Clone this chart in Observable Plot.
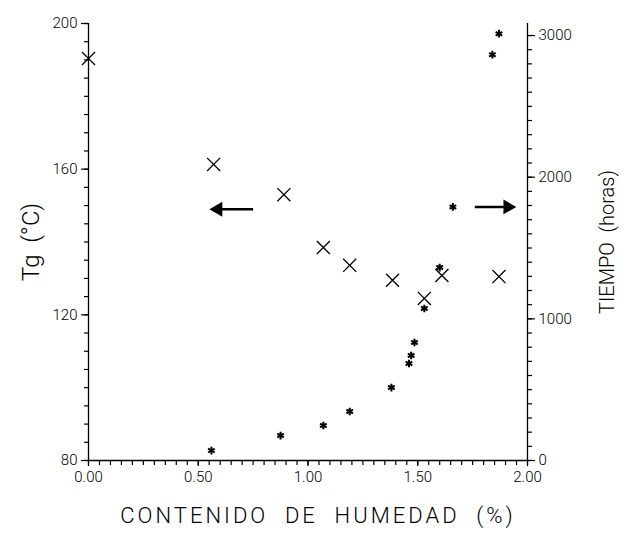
<!DOCTYPE html>
<html>
<head>
<meta charset="utf-8">
<script src="https://cdn.jsdelivr.net/npm/d3@7"></script>
<script src="https://cdn.jsdelivr.net/npm/@observablehq/plot@0.6"></script>
<style>
  html, body { margin: 0; padding: 0; background: #fff; }
  svg { display: block; }
</style>
</head>
<body>
<script>
// Tick values
const xTicks = [0, 0.5, 1, 1.5, 2];
const xMinor = d3.range(0, 2.0001, 0.05);
const tgTicks = [80, 120, 160, 200];
const tgMinor = d3.range(80, 200.001, 5);
const timeTicks = [0, 1000, 2000, 3000];
const timeMinor = d3.range(0, 3000.001, 100);
const TIME_MAX = 3085;

// Tg series (×, left axis)
const tgX   = [0.00, 0.57, 0.89, 1.07, 1.19, 1.385, 1.53, 1.61, 1.87];
const tgVal = [190.4, 161.3, 153, 138.5, 133.6, 129.5, 124.5, 130.8, 130.5];

// Tiempo series (*, right axis)
const timeX   = [0.56, 0.875, 1.07, 1.19, 1.38, 1.46, 1.47, 1.485, 1.53, 1.60, 1.66, 1.84, 1.87];
const timeVal = [70, 176, 247, 346, 515, 685, 741, 833, 1073, 1362, 1790, 2865, 3013];

// Arrows pointing to the relevant axis
const arrowTail = [0.75, 1.76];
const arrowHead = [0.59, 1.91];
const arrowLevelTg = [149, null];
const arrowLevelTime = [null, 1790];

const toTg = t => 80 + t * 120 / TIME_MAX;
const fromTg = v => (v - 80) * TIME_MAX / 120;

const tgData = tgX.map((x, i) => ({x, y: tgVal[i]}));
const timeData = timeX.map((x, i) => ({x, y: toTg(timeVal[i])}));
const arrows = arrowTail.map((t, i) => ({
  x1: t, x2: arrowHead[i],
  y: arrowLevelTg[i] != null ? arrowLevelTg[i] : toTg(arrowLevelTime[i]),
  rot: arrowHead[i] < t ? -90 : 90
}));

const font = "Roboto, 'Liberation Sans', sans-serif";

const chart = Plot.plot({
  width: 644,
  height: 533,
  marginLeft: 88,
  marginRight: 117,
  marginTop: 23,
  marginBottom: 73,
  style: {fontFamily: font, background: "#fff", color: "#000", fontWeight: 300},
  x: {domain: [0, 2]},
  y: {domain: [80, 200]},
  marks: [
    // axis lines
    Plot.ruleX([0, 2], {stroke: "#000", strokeWidth: 1.3}),
    Plot.ruleY([80], {stroke: "#000", strokeWidth: 1.6}),
    // x axis
    Plot.axisX(xMinor, {tickSize: 5, tickFormat: () => "", label: null, strokeWidth: 1.2}),
    Plot.axisX(xTicks, {tickSize: 6, tickPadding: 5, tickFormat: d3.format(".2f"), label: null, fontSize: 15, strokeWidth: 1.2}),
    // left axis
    Plot.axisY(tgMinor, {anchor: "left", tickSize: 4, tickFormat: () => "", label: null, strokeWidth: 1.2}),
    Plot.axisY(tgTicks, {anchor: "left", tickSize: 7, tickPadding: 4, label: null, fontSize: 15, strokeWidth: 1.2}),
    // right axis (time)
    Plot.axisY(timeMinor.map(toTg), {anchor: "right", tickSize: 4, tickFormat: () => "", label: null, strokeWidth: 1.2}),
    Plot.axisY(timeTicks.map(toTg), {anchor: "right", tickSize: 7, tickPadding: 4, label: null, fontSize: 15, strokeWidth: 1.2,
      tickFormat: v => String(Math.round(fromTg(v)))}),
    // titles
    Plot.text(["Tg  (°C)"], {frameAnchor: "left", dx: -57, rotate: -90, textAnchor: "middle", fontSize: 24, fontWeight: 300}),
    Plot.text(["TIEMPO  (horas)"], {frameAnchor: "right", dx: 80, rotate: -90, textAnchor: "middle", fontSize: 20, fontWeight: 300}),
    Plot.text(["CONTENIDO  DE  HUMEDAD  (%)"], {frameAnchor: "bottom", dx: 10, dy: 62, fontSize: 22, fontWeight: 300}),
    // data
    Plot.dot(tgData, {x: "x", y: "y", symbol: "times", r: 6, stroke: "#000", strokeWidth: 1.3}),
    Plot.dot(timeData, {x: "x", y: "y", symbol: "asterisk", r: 3.6, stroke: "#000", strokeWidth: 2}),
    // arrows
    Plot.link(arrows, {x1: "x1", x2: "x2", y1: "y", y2: "y", stroke: "#000", strokeWidth: 2.5}),
    Plot.dot(arrows, {x: "x2", y: "y", symbol: "triangle", r: 5.5, fill: "#000", rotate: "rot"})
  ]
});
d3.select(chart).selectAll("text")
  .filter(function() { return this.textContent.startsWith("CONTENIDO"); })
  .attr("letter-spacing", "3px");
document.body.appendChild(chart);
</script>
</body>
</html>
